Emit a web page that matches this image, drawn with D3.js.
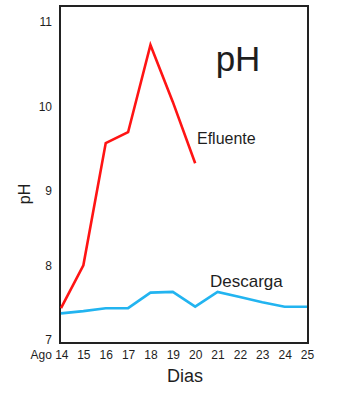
<!DOCTYPE html>
<html>
<head>
<meta charset="utf-8">
<script src="https://cdn.jsdelivr.net/npm/d3@7"></script>
<style>
  html, body { margin: 0; padding: 0; background: #fff; }
  text { font-family: "Liberation Sans", Arial, sans-serif; fill: #1e1e1e; }
</style>
</head>
<body>
<svg id="chart" width="352" height="420"></svg>
<script>
// Data
const days = [14, 15, 16, 17, 18, 19, 20, 21, 22, 23, 24, 25];
const dayLabels = ["Ago 14", "15", "16", "17", "18", "19", "20", "21", "22", "23", "24", "25"];
const efluenteDays = [14, 15, 16, 17, 18, 19, 20];
const efluente = [7.43, 8.01, 9.57, 9.70, 10.73, 10.06, 9.33];
const descarga = [7.36, 7.39, 7.43, 7.43, 7.64, 7.65, 7.45, 7.65, 7.58, 7.51, 7.45, 7.45];
const yTicks = [7, 8, 9, 10, 11];

const svg = d3.select("#chart");
const frame = { left: 60, top: 6, right: 308, bottom: 343 };

const x = d3.scaleLinear().domain([14, 25]).range([61, 307]);
// hand-drawn axis: tick spacing is not uniform, use a piecewise scale
const y = d3.scaleLinear().domain([7, 8, 9, 10, 11]).range([340, 266, 191, 107, 22]);

// Frame
svg.append("rect")
  .attr("x", frame.left).attr("y", frame.top)
  .attr("width", frame.right - frame.left).attr("height", frame.bottom - frame.top)
  .attr("fill", "none").attr("stroke", "#222").attr("stroke-width", 2);

// Y axis (labels only)
const yAxis = svg.append("g").attr("transform", `translate(${frame.left},0)`)
  .call(d3.axisLeft(y).tickValues(yTicks).tickSize(0).tickPadding(8).tickFormat(d3.format("d")));
yAxis.select(".domain").remove();
yAxis.selectAll("text").attr("font-size", 12).attr("font-family", "Liberation Sans, Arial, sans-serif").attr("fill", "#1e1e1e");

// X axis (labels only)
const xAxis = svg.append("g").attr("transform", `translate(0,${frame.bottom})`)
  .call(d3.axisBottom(x).tickValues(days).tickSize(0).tickPadding(7)
    .tickFormat((d, i) => dayLabels[i]));
xAxis.select(".domain").remove();
xAxis.selectAll("text").attr("font-size", 12).attr("font-family", "Liberation Sans, Arial, sans-serif").attr("fill", "#1e1e1e");
xAxis.selectAll(".tick").filter((d, i) => i === 0).select("text")
  .attr("text-anchor", "end").attr("x", 7);

// Lines
const line = d3.line().x(d => x(d[0])).y(d => y(d[1]));
svg.append("path")
  .datum(days.map((d, i) => [d, descarga[i]]))
  .attr("d", line).attr("fill", "none")
  .attr("stroke", "#22b4f0").attr("stroke-width", 2.6).attr("stroke-linejoin", "miter");
svg.append("path")
  .datum(efluenteDays.map((d, i) => [d, efluente[i]]))
  .attr("d", line).attr("fill", "none")
  .attr("stroke", "#ff1414").attr("stroke-width", 2.6).attr("stroke-linejoin", "miter");

// Labels
svg.append("text").attr("x", 238).attr("y", 71).attr("text-anchor", "middle")
  .attr("font-size", 35).text("pH");
svg.append("text").attr("x", 197).attr("y", 144).attr("font-size", 16).text("Efluente");
svg.append("text").attr("x", 210).attr("y", 287).attr("font-size", 17).text("Descarga");
svg.append("text").attr("x", 185).attr("y", 382).attr("text-anchor", "middle")
  .attr("font-size", 18).text("Dias");
svg.append("text").attr("transform", "translate(30,194) rotate(-90)")
  .attr("text-anchor", "middle").attr("font-size", 16).text("pH");
</script>
</body>
</html>
